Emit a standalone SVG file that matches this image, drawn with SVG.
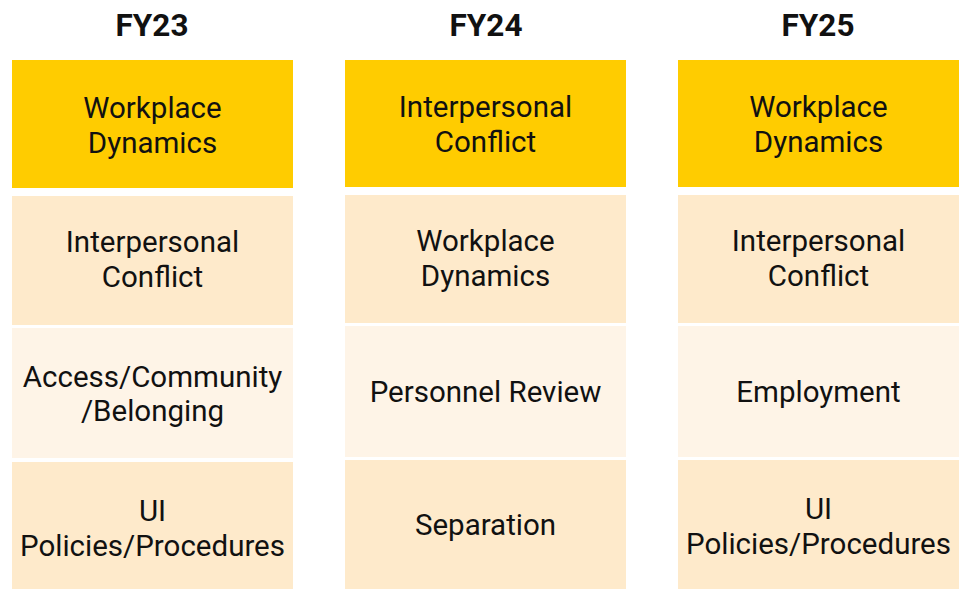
<svg xmlns="http://www.w3.org/2000/svg" width="968" height="589" viewBox="0 0 968 589">
<style>
.t{font-family:Roboto,"Liberation Sans",sans-serif;font-size:29.5px;fill:#111;text-anchor:middle}
.h{font-family:Roboto,"Liberation Sans",sans-serif;font-size:31.5px;font-weight:bold;fill:#111;text-anchor:middle}
.a{fill:#FFCC00}.b{fill:#FEEACB}.c{fill:#FEF4E7}
</style>
<rect width="968" height="589" fill="#fff"/>
<g id="headers">
<text class="h" x="152" y="36">FY23</text>
<text class="h" x="486" y="36">FY24</text>
<text class="h" x="818" y="36">FY25</text>
</g>
<g id="fy23-1"><rect class="a" x="12" y="60" width="281" height="128"/><text class="t" x="152.5" y="118">Workplace</text><text class="t" x="152.5" y="153">Dynamics</text></g>
<g id="fy23-2"><rect class="b" x="12" y="196" width="281" height="129"/><text class="t" x="152.5" y="252">Interpersonal</text><text class="t" x="152.5" y="287">Conflict</text></g>
<g id="fy23-3"><rect class="c" x="12" y="328" width="281" height="130"/><text class="t" x="152.5" y="387">Access/Community</text><text class="t" x="152.5" y="421">/Belonging</text></g>
<g id="fy23-4"><rect class="b" x="12" y="462" width="281" height="127"/><text class="t" x="152.5" y="521">UI</text><text class="t" x="152.5" y="556">Policies/Procedures</text></g>
<g id="fy24-1"><rect class="a" x="345" y="60" width="281" height="127"/><text class="t" x="485.5" y="117">Interpersonal</text><text class="t" x="485.5" y="152">Conflict</text></g>
<g id="fy24-2"><rect class="b" x="345" y="195" width="281" height="128"/><text class="t" x="485.5" y="251">Workplace</text><text class="t" x="485.5" y="286">Dynamics</text></g>
<g id="fy24-3"><rect class="c" x="345" y="326" width="281" height="131"/><text class="t" x="485.5" y="402">Personnel Review</text></g>
<g id="fy24-4"><rect class="b" x="345" y="460" width="281" height="129"/><text class="t" x="485.5" y="535">Separation</text></g>
<g id="fy25-1"><rect class="a" x="678" y="60" width="281" height="127"/><text class="t" x="818.5" y="117">Workplace</text><text class="t" x="818.5" y="152">Dynamics</text></g>
<g id="fy25-2"><rect class="b" x="678" y="195" width="281" height="128"/><text class="t" x="818.5" y="251">Interpersonal</text><text class="t" x="818.5" y="286">Conflict</text></g>
<g id="fy25-3"><rect class="c" x="678" y="326" width="281" height="131"/><text class="t" x="818.5" y="402">Employment</text></g>
<g id="fy25-4"><rect class="b" x="678" y="460" width="281" height="129"/><text class="t" x="818.5" y="519">UI</text><text class="t" x="818.5" y="554">Policies/Procedures</text></g>
<g id="connectors"/>
</svg>
